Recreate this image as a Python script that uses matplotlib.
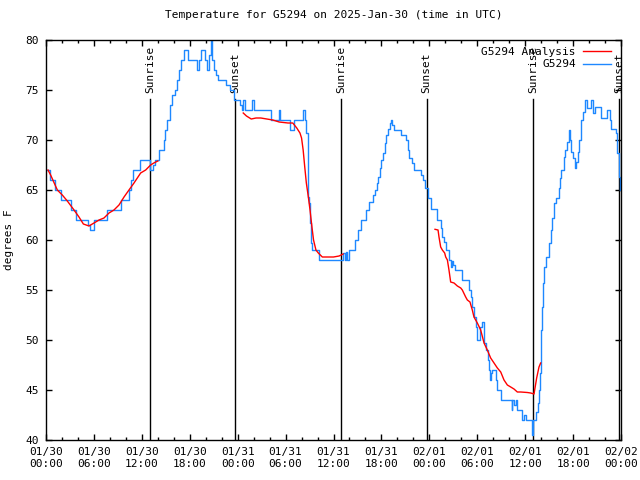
import numpy as np
import matplotlib
matplotlib.use("Agg")
import matplotlib.pyplot as plt

# ---------------- data (hours since 2025-01-30 00:00 UTC) ----------------
obs_hours = [0.0, 0.5, 1.1, 1.9, 3.1, 3.8, 5.2, 5.5, 5.95, 7.6, 9.4, 10.4, 10.6, 10.9, 11.8,
             13.05, 13.4, 13.6, 14.2, 14.8, 14.9, 15.2, 15.5, 15.8, 16.1, 16.4, 16.7, 16.95,
             17.3, 17.8, 18.95, 19.2, 19.45, 19.87, 20.2, 20.4, 20.6, 20.8, 21.0, 21.3, 21.5,
             22.6, 23.0, 23.6, 24.3, 24.5, 24.7, 24.9, 25.8, 26.0, 28.2, 29.2, 29.35, 30.5,
             31.0, 32.2, 32.4, 32.6, 32.75, 32.85, 32.95, 33.05, 33.15, 33.3, 34.2,
             37.2, 37.45, 37.6, 37.7, 37.9, 38.65, 39.07, 39.5, 40.1, 40.5, 40.9, 41.2, 41.4,
             41.6, 41.8, 42.0, 42.2, 42.4, 42.6, 42.8, 43.1, 43.2, 43.35, 43.6, 44.4, 45.1,
             45.3, 45.5, 45.8, 46.1, 46.9, 47.2, 47.5, 47.8, 48.2, 48.9, 49.4, 49.6, 49.8,
             50.05, 50.5, 50.7, 50.9, 51.0, 51.2, 52.1, 53.0, 53.2, 53.4, 53.6, 53.8, 54.0,
             54.4, 54.6, 54.8, 55.1, 55.3, 55.5, 55.6, 55.7, 55.9, 56.3, 56.5, 57.0, 58.3,
             58.4, 58.6, 58.8, 59.0, 59.6, 59.9, 60.1, 60.9, 61.0, 61.4, 61.6, 61.7, 61.86,
             61.95, 62.1, 62.2, 62.4, 62.65, 62.95, 63.2, 63.4, 63.6, 63.9, 64.2, 64.3, 64.5,
             64.8, 65.0, 65.3, 65.45, 65.6, 65.8, 66.0, 66.2, 66.4, 66.6, 66.8, 67.0, 67.2,
             67.45, 67.8, 68.3, 68.5, 68.7, 69.5, 70.2, 70.6, 70.8, 71.4, 71.5, 71.7, 71.8,
             71.9, 72.0]
obs_temps = [67, 66, 65, 64, 63, 62, 61.5, 61, 62, 63, 64, 65, 66, 67, 68,
             67, 67.5, 68, 69, 70, 71, 72, 73.5, 74.5, 75, 76, 77, 78,
             79, 78, 77, 78, 79, 78, 77, 78.5, 80, 78, 77, 76.5, 76,
             75.5, 75, 74, 73.5, 73, 74, 73, 74, 73, 72, 73, 72, 71,
             72, 73, 72, 70.7, 68, 64.3, 63.7, 61.7, 59.7, 59, 58,
             58.7, 58, 58.8, 58, 59, 60, 61, 62, 63, 63.8, 64.5, 65, 65.7,
             66.3, 67.2, 68, 68.7, 69.7, 70.5, 71.1, 71.7, 72, 71.5, 71, 70.5, 70,
             69, 68.2, 67.7, 67, 66.5, 66, 65.2, 64.2, 63.1, 62, 61.2, 60.3, 59.8,
             59, 58, 57.3, 57.9, 57.5, 57, 56, 55, 54.3, 53.3, 52.3, 51.3, 50,
             51.3, 51.8, 49.7, 49, 48, 47, 46, 46.7, 47, 46, 45, 44, 43,
             44, 43.5, 44, 43, 42, 42.5, 42, 40.5, 42, 42.8, 43.7, 45, 46.7,
             51, 53.3, 55.7, 57.3, 58.3, 59.7, 61, 62.2, 63.7, 64.2, 65.2, 66.2, 67,
             68.3, 69, 69.8, 71, 70, 68.8, 68.2, 67.2, 67.8, 68.8, 70, 72, 72.8,
             74, 73.2, 74, 72.7, 73.3, 72.2, 73, 72, 71.1, 70.7, 68.7, 67.5, 66.3,
             65, 65]

ana_hours = [0.25, 0.58, 1.42, 2.04, 2.67, 3.51, 4.13, 4.68, 5.38, 6.01, 6.64, 7.26, 7.89,
             8.51, 9.14, 9.77, 10.39, 11.02, 11.85, 12.48, 13.1, 13.5, 14.0, 14.05,
             24.7, 25.1, 25.7, 26.3, 26.9, 28.4, 29.2, 30.3, 30.9, 31.4, 31.8, 32.0, 32.2,
             32.4, 32.6, 32.85, 33.06, 33.3, 33.5, 33.8, 34.1, 34.6, 36.0, 36.7, 37.2, 37.25,
             48.71, 49.09, 49.21, 49.42, 49.63, 49.92, 50.05, 50.26, 50.46, 50.67, 51.09,
             51.51, 51.93, 52.13, 52.55, 52.76, 53.09, 53.38, 53.59, 54.01, 54.43, 54.85,
             55.26, 55.68, 56.1, 56.52, 56.94, 57.35, 57.77, 58.19, 58.6, 59.02, 59.44,
             60.27, 60.69, 61.11, 61.19, 61.44, 61.73, 61.94]
ana_temps = [67, 66.5, 65, 64.5, 63.9, 63, 62.3, 61.6, 61.4, 61.7, 62, 62.2, 62.7,
             63, 63.5, 64.3, 65, 65.7, 66.7, 67, 67.5, 67.7, 67.9, np.nan,
             72.7, 72.4, 72.1, 72.2, 72.2, 72.0, 71.8, 71.7, 71.7, 71.2, 70.7, 70.2, 69,
             67.3, 65.7, 64.3, 63, 61.3, 60, 59, 58.7, 58.3, 58.3, 58.4, 58.6, np.nan,
             61.07, 61, 60.3, 59.3, 59, 58.7, 58.3, 58, 57, 55.8, 55.7,
             55.4, 55.2, 55, 54.3, 54, 53.8, 53, 52.3, 51.7, 51, 49.7,
             49, 48.2, 47.7, 47.2, 46.8, 46, 45.5, 45.3, 45.1, 44.8, 44.8,
             44.75, 44.7, 44.6, 45, 46.2, 47.3, 47.7]

sunrise_hours = [13.02, 36.94, 61.0]
sunset_hours = [23.65, 47.67, 71.75]

tick_hours = list(range(0, 73, 6))
tick_labels = ["01/30\n00:00", "01/30\n06:00", "01/30\n12:00", "01/30\n18:00",
               "01/31\n00:00", "01/31\n06:00", "01/31\n12:00", "01/31\n18:00",
               "02/01\n00:00", "02/01\n06:00", "02/01\n12:00", "02/01\n18:00",
               "02/02\n00:00"]

# ---------------- plot ----------------
mono = "DejaVu Sans Mono"
plt.rcParams["font.family"] = mono
plt.rcParams["font.size"] = 8

fig = plt.figure(figsize=(6.4, 4.8), dpi=100)
ax = fig.add_axes([46 / 640, 40 / 480, 575 / 640, 400 / 480])

ax.plot(ana_hours, ana_temps, color="#ff0000", lw=1.0, label="G5294 Analysis", zorder=3)
ax.plot(obs_hours, obs_temps, color="#1e88ff", lw=1.0, drawstyle="steps-post",
        label="G5294", zorder=2)

line_top = 74.1
for h in sunrise_hours:
    ax.axvline(h, ymin=0, ymax=(line_top - 40) / 40, color="black", lw=1.0, zorder=1)
    ax.text(h, line_top + 0.6, "Sunrise", rotation=90, ha="center", va="bottom",
            fontsize=8, zorder=1)
for h in sunset_hours:
    ax.axvline(h, ymin=0, ymax=(line_top - 40) / 40, color="black", lw=1.0, zorder=1)
    ax.text(h, line_top + 0.6, "Sunset", rotation=90, ha="center", va="bottom",
            fontsize=8, zorder=1)

ax.set_xlim(0, 72)
ax.set_ylim(40, 80)
ax.set_xticks(tick_hours)
ax.set_xticklabels(tick_labels)
ax.set_xticks(range(0, 73, 2), minor=True)
ax.set_yticks(range(40, 81, 5))
ax.tick_params(which="both", direction="in", top=True, right=True, width=1.0)
ax.tick_params(which="major", length=4.5, pad=5)
ax.tick_params(which="minor", length=2.2)
for s in ax.spines.values():
    s.set_linewidth(1.0)

ax.set_ylabel("degrees F", labelpad=8)
ax.set_title("Temperature for G5294 on 2025-Jan-30 (time in UTC)", fontsize=8, pad=16)

leg = ax.legend(loc="upper right", frameon=False, markerfirst=False, handlelength=2.6,
                handletextpad=0.6, borderaxespad=0.2, labelspacing=0.25, fontsize=8,
                bbox_to_anchor=(0.995, 1.0))

fig.savefig("out.png", dpi=100)
